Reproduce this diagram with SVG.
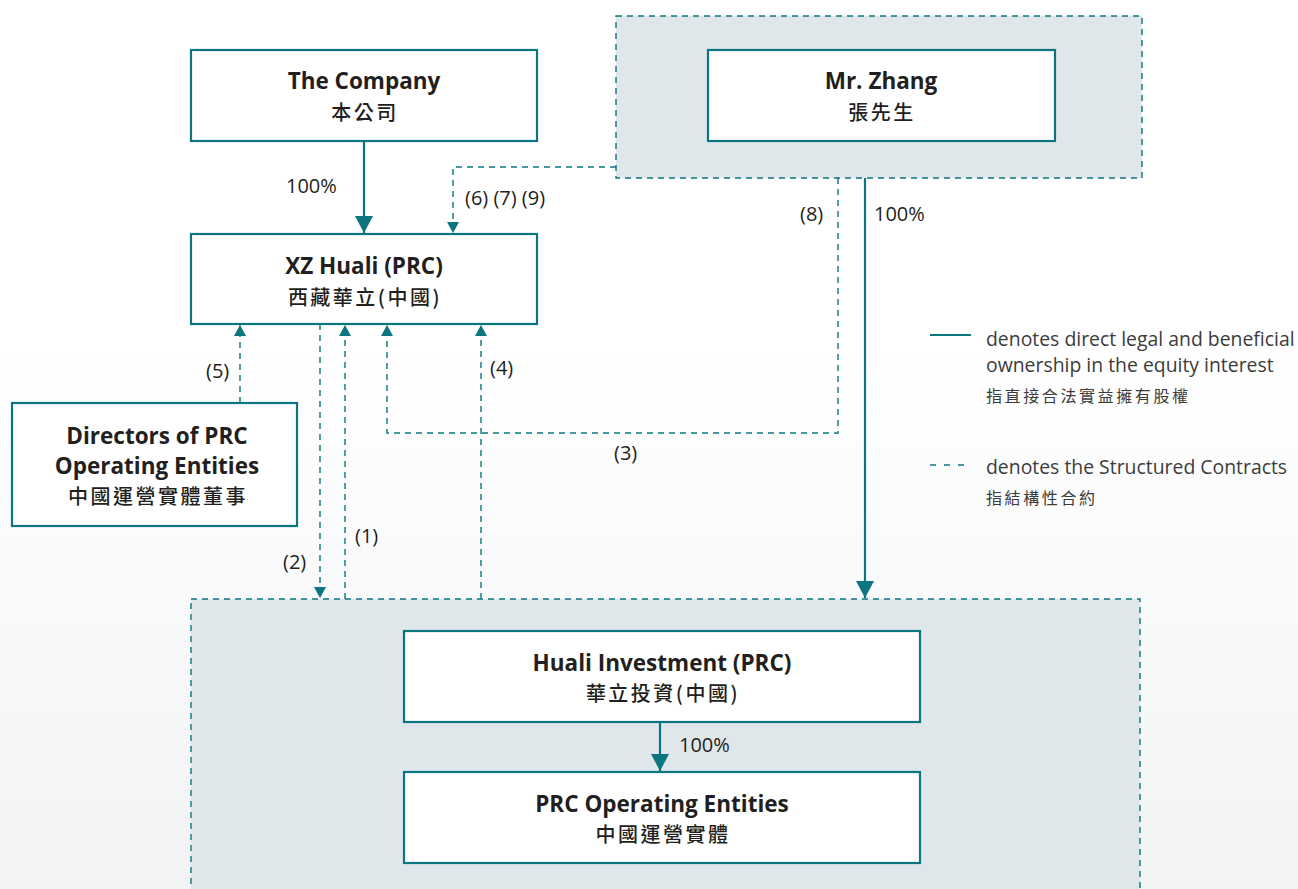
<svg xmlns="http://www.w3.org/2000/svg" width="1298" height="889" viewBox="0 0 1298 889">
<defs>
<linearGradient id="bg" x1="0" y1="0" x2="0" y2="1">
<stop offset="0" stop-color="#ffffff"/>
<stop offset="0.4" stop-color="#ffffff"/>
<stop offset="1" stop-color="#f1f3f5"/>
</linearGradient>
<marker id="big" markerUnits="userSpaceOnUse" markerWidth="20" markerHeight="20" viewBox="0 0 20 20" refX="17" refY="10" orient="auto">
<path d="M0,1 L17,10 L0,19 Z" fill="#0b7580"/>
</marker>
<marker id="small" markerUnits="userSpaceOnUse" markerWidth="12" markerHeight="14" viewBox="0 0 12 14" refX="11" refY="7" orient="auto">
<path d="M0,1 L11,7 L0,13 Z" fill="#0b7580"/>
</marker>
<style>
.box{fill:#ffffff;stroke:#0b7580;stroke-width:2.2}
.grp{fill:#e0e7eb;stroke:#0b7580;stroke-width:1.4;stroke-dasharray:6 5}
.solid{fill:none;stroke:#0b7580;stroke-width:2.2}
.dash{fill:none;stroke:#0b7580;stroke-width:1.4;stroke-dasharray:6 5}
.en{font-family:"Open Sans","Noto Sans","Liberation Sans",sans-serif;font-weight:700;font-size:22.5px;fill:#231f20;text-anchor:middle}
.zh{font-family:"Noto Sans CJK TC","Noto Sans CJK SC",sans-serif;font-weight:500;font-size:20px;letter-spacing:2.5px;fill:#231f20;text-anchor:middle}
.lbl{font-family:"Open Sans","Noto Sans","Liberation Sans",sans-serif;font-weight:400;font-size:20px;fill:#231f20}
.leg{font-family:"Open Sans","Noto Sans","Liberation Sans",sans-serif;font-weight:400;font-size:19.4px;fill:#3c3c3c}
.legzh{font-family:"Noto Sans CJK TC","Noto Sans CJK SC",sans-serif;font-weight:400;font-size:16px;letter-spacing:2.6px;fill:#3c3c3c}
</style>
</defs>
<rect x="0" y="0" width="1298" height="889" fill="url(#bg)"/>

<g id="group-zhang">
<rect class="grp" x="616" y="16" width="526" height="162"/>
</g>
<g id="group-prc">
<rect class="grp" x="191" y="599" width="949" height="310"/>
</g>

<g id="connectors">
<line class="solid" x1="364" y1="141" x2="364" y2="233" marker-end="url(#big)"/>
<polyline class="dash" points="616,167 453,167 453,233" marker-end="url(#small)"/>
<polyline class="dash" points="838,178 838,433 387,433 387,325" marker-end="url(#small)"/>
<line class="solid" x1="865" y1="178" x2="865" y2="598" marker-end="url(#big)"/>
<line class="dash" x1="240" y1="403" x2="240" y2="325" marker-end="url(#small)"/>
<line class="dash" x1="320" y1="324" x2="320" y2="598" marker-end="url(#small)"/>
<line class="dash" x1="345" y1="599" x2="345" y2="325" marker-end="url(#small)"/>
<line class="dash" x1="481" y1="599" x2="481" y2="325" marker-end="url(#small)"/>
<line class="solid" x1="660" y1="722" x2="660" y2="771" marker-end="url(#big)"/>
</g>

<g id="labels">
<text class="lbl" x="286" y="193">100%</text>
<text class="lbl" x="465" y="205">(6) (7) (9)</text>
<text class="lbl" x="800" y="221">(8)</text>
<text class="lbl" x="874" y="221">100%</text>
<text class="lbl" x="206" y="378">(5)</text>
<text class="lbl" x="490" y="375">(4)</text>
<text class="lbl" x="614" y="460">(3)</text>
<text class="lbl" x="355" y="543">(1)</text>
<text class="lbl" x="283" y="569">(2)</text>
<text class="lbl" x="679" y="752">100%</text>
</g>

<g id="node-company">
<rect class="box" x="191" y="50" width="346" height="91"/>
<text class="en" x="364" y="89">The Company</text>
<text class="zh" x="365" y="120">本公司</text>
</g>

<g id="node-zhang">
<rect class="box" x="708" y="50" width="347" height="91"/>
<text class="en" x="881" y="89">Mr. Zhang</text>
<text class="zh" x="882" y="120">張先生</text>
</g>

<g id="node-xzhuali">
<rect class="box" x="191" y="234" width="346" height="90"/>
<text class="en" x="364" y="274">XZ Huali (PRC)</text>
<text class="zh" x="365" y="305">西藏華立(中國)</text>
</g>

<g id="node-directors">
<rect class="box" x="12" y="403" width="285" height="123"/>
<text class="en" x="157" y="444">Directors of PRC</text>
<text class="en" x="157" y="474">Operating Entities</text>
<text class="zh" x="158" y="504">中國運營實體董事</text>
</g>

<g id="node-hualiinv">
<rect class="box" x="404" y="631" width="516" height="91"/>
<text class="en" x="662" y="671">Huali Investment (PRC)</text>
<text class="zh" x="663" y="701">華立投資(中國)</text>
</g>

<g id="node-prcop">
<rect class="box" x="404" y="772" width="516" height="91"/>
<text class="en" x="662" y="812">PRC Operating Entities</text>
<text class="zh" x="663" y="842">中國運營實體</text>
</g>

<g id="legend">
<line class="solid" x1="930" y1="335" x2="971" y2="335" style="stroke-width:1.8"/>
<text class="leg" x="986" y="346">denotes direct legal and beneficial</text>
<text class="leg" x="986" y="372">ownership in the equity interest</text>
<text class="legzh" x="986" y="402">指直接合法實益擁有股權</text>
<line class="dash" x1="930" y1="465" x2="971" y2="465" style="stroke-dasharray:6 8"/>
<text class="leg" x="986" y="474">denotes the Structured Contracts</text>
<text class="legzh" x="986" y="504">指結構性合約</text>
</g>
</svg>
